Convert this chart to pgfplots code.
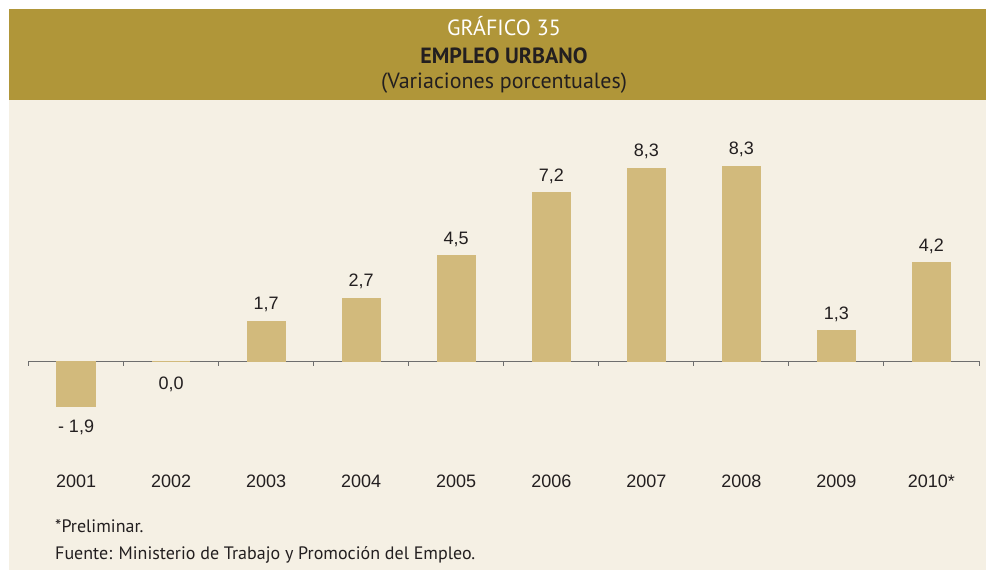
\documentclass[border=0pt]{standalone}
\usepackage{pgfplots}
\usepackage{pgfplotstable}
\pgfplotsset{compat=1.18}
\usepackage{fontspec}
\setmainfont{Liberation Sans}
\newfontfamily\hdr{PT Sans}
\definecolor{band}{RGB}{176,150,57}
\definecolor{cream}{RGB}{245,240,228}
\definecolor{barc}{RGB}{210,186,124}
\definecolor{txt}{RGB}{35,31,32}
\definecolor{axc}{RGB}{110,110,110}

\pgfplotstableread{
x y lab sh
0 -1.9 {-\ 1,9} -26.7
1 0.0 {0,0} -28.5
2 1.7 {1,7} 12
3 2.7 {2,7} 12
4 4.5 {4,5} 12
5 7.2 {7,2} 12
6 8.25 {8,3} 12
7 8.33 {8,3} 12
8 1.3 {1,3} 12
9 4.2 {4,2} 12
}\datatable

\begin{document}
\begin{tikzpicture}[x=1pt,y=1pt]
\fill[white] (0,0) rectangle (986,570);
\useasboundingbox (0,0) rectangle (986,570);
\fill[band] (9,470) rectangle (986,561);
\fill[cream] (9,0) rectangle (986,470);
\node[font=\hdr\fontsize{22}{26}\selectfont, text=white, anchor=base, inner sep=0pt] at (504,534) {GRÁFICO 35};
\node[font=\hdr\bfseries\fontsize{22}{26}\selectfont, text=txt, anchor=base, inner sep=0pt] at (504,506.7) {EMPLEO URBANO};
\node[font=\hdr\fontsize{22}{26}\selectfont, text=txt, anchor=base, inner sep=0pt] at (504,481.7) {(Variaciones porcentuales)};
\node[font=\hdr\fontsize{18}{20}\selectfont, text=txt, anchor=base west, inner sep=0pt] at (55,37) {*Preliminar.};
\node[font=\hdr\fontsize{18}{20}\selectfont, text=txt, anchor=base west, inner sep=0pt] at (55,10) {Fuente: Ministerio de Trabajo y Promoción del Empleo.};
\begin{axis}[
  at={(28.5pt,103.2pt)}, anchor=south west,
  scale only axis, width=950.5pt, height=315.9pt,
  xmin=-0.5, xmax=9.5, ymin=-4.5, ymax=9,
  enlargelimits=false, clip=false,
  axis x line*=bottom, axis y line=none,
  x axis line style={draw=none},
  major tick length=0pt,
  ytick=\empty,
  xtick={0,...,9},
  xticklabels={2001,2002,2003,2004,2005,2006,2007,2008,2009,2010*},
  xticklabel style={anchor=north, inner sep=0pt, yshift=-8pt, font=\fontsize{18}{20}\selectfont, text=txt},
]
\addplot[axc, line width=1pt, forget plot] coordinates {(-0.5,0) (9.5,0)};
\pgfplotsinvokeforeach{-0.5,0.5,...,9.5}{
  \draw[axc, line width=1pt] (axis cs:#1,0) -- ([yshift=-5pt]axis cs:#1,0);
}
\addplot[ybar, bar width=37.7pt, fill=barc, draw=barc, line width=1.5pt,
  nodes near coords, point meta=explicit symbolic,
  visualization depends on={\thisrow{sh} \as \lsh},
  every node near coord/.append style={anchor=base, inner sep=0pt, yshift=\lsh pt, font=\fontsize{18}{20}\selectfont, text=txt}]
  table[x=x, y=y, meta=lab] {\datatable};
\end{axis}
\end{tikzpicture}
\end{document}
